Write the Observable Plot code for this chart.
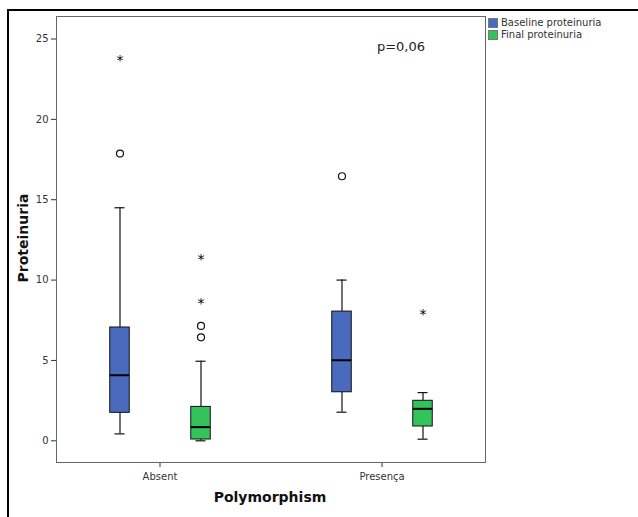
<!DOCTYPE html>
<html>
<head>
<meta charset="utf-8">
<script src="https://cdn.jsdelivr.net/npm/d3@7"></script>
<script src="https://cdn.jsdelivr.net/npm/@observablehq/plot@0.6"></script>
<style>
  html, body { margin: 0; padding: 0; background: #fff; }
  #wrap { position: relative; width: 638px; height: 517px; overflow: hidden; font-family: "DejaVu Sans", sans-serif; }
  #border { position: absolute; left: 7px; top: 9px; width: 700px; height: 600px; border: 2px solid #000; box-sizing: border-box; }
  #chart { position: absolute; left: 0; top: 0; }
  .legend { position: absolute; left: 488px; top: 17px; font-size: 10px; color: #333; line-height: 12px; }
  .legend div { display: flex; align-items: center; height: 12px; }
  .legend span.sw { display: inline-block; width: 10px; height: 10px; box-sizing: border-box; border: 1px solid #777; margin-right: 3px; }
  .ytitle { position: absolute; left: 23px; top: 238px; transform: translate(-50%, -50%) rotate(-90deg); font-weight: bold; font-size: 14px; color: #111; white-space: nowrap; }
  .xtitle { position: absolute; left: 270px; top: 489px; transform: translateX(-50%); font-weight: bold; font-size: 14px; color: #111; white-space: nowrap; }
  .pval { position: absolute; left: 401px; top: 39px; transform: translateX(-50%); font-size: 13px; color: #222; white-space: nowrap; }
</style>
</head>
<body>
<div id="wrap">
  <div id="chart"></div>
  <div id="border"></div>
  <div class="legend" id="legend"></div>
  <div class="ytitle">Proteinuria</div>
  <div class="xtitle">Polymorphism</div>
  <div class="pval">p=0,06</div>
</div>
<script>
// Categories
const groupNames = ["Absent", "Presença"];
const seriesNames = ["Baseline proteinuria", "Final proteinuria"];
const seriesColors = ["#4a6bbd", "#34c25b"];

// Box summaries (one per group × series)
const boxGroup = ["Absent", "Absent", "Presença", "Presença"];
const boxSeries = ["Baseline proteinuria", "Final proteinuria", "Baseline proteinuria", "Final proteinuria"];
const whiskerLow = [0.43, 0.0, 1.78, 0.1];
const q1 = [1.74, 0.08, 3.02, 0.89];
const median = [4.08, 0.85, 5.01, 1.99];
const q3 = [7.05, 2.11, 8.04, 2.49];
const whiskerHigh = [14.5, 4.95, 10.0, 3.0];

// Outliers (circles)
const outlierGroup = ["Absent", "Absent", "Absent", "Presença"];
const outlierSeries = ["Baseline proteinuria", "Final proteinuria", "Final proteinuria", "Baseline proteinuria"];
const outlierValue = [17.87, 7.15, 6.44, 16.46];

// Extreme values (stars)
const extremeGroup = ["Absent", "Absent", "Absent", "Presença"];
const extremeSeries = ["Baseline proteinuria", "Final proteinuria", "Final proteinuria", "Final proteinuria"];
const extremeValue = [23.8, 11.42, 8.68, 8.0];

// Y axis ticks
const yTicks = [0, 5, 10, 15, 20, 25];

const boxes = boxGroup.map((g, i) => ({
  group: g, series: boxSeries[i],
  lo: whiskerLow[i], q1: q1[i], med: median[i], q3: q3[i], hi: whiskerHigh[i]
}));
const outliers = outlierGroup.map((g, i) => ({group: g, series: outlierSeries[i], value: outlierValue[i]}));
const extremes = extremeGroup.map((g, i) => ({group: g, series: extremeSeries[i], value: extremeValue[i]}));

const ink = "#111";
const chart = Plot.plot({
  width: 638,
  height: 517,
  marginLeft: 55,
  marginRight: 152,
  marginTop: 16,
  marginBottom: 55,
  style: {fontFamily: "DejaVu Sans, sans-serif", fontSize: "10px", color: "#333", background: "transparent"},
  fx: {domain: groupNames, paddingInner: 0.067, paddingOuter: 0, label: null, axis: "bottom", tickSize: 5, tickPadding: 5},
  x: {domain: seriesNames, paddingInner: 0, paddingOuter: 0.268, axis: null},
  y: {domain: [-1.35, 26.4], ticks: yTicks, tickSize: 5, tickPadding: 3, label: null},
  color: {domain: seriesNames, range: seriesColors},
  marks: [
    Plot.ruleX(boxes, {fx: "group", x: "series", y1: "lo", y2: "q1", stroke: ink, strokeWidth: 1.2}),
    Plot.ruleX(boxes, {fx: "group", x: "series", y1: "q3", y2: "hi", stroke: ink, strokeWidth: 1.2}),
    Plot.tickY(boxes, {fx: "group", x: "series", y: "lo", stroke: ink, strokeWidth: 1.2, insetLeft: 35.5, insetRight: 35.5}),
    Plot.tickY(boxes, {fx: "group", x: "series", y: "hi", stroke: ink, strokeWidth: 1.2, insetLeft: 35.5, insetRight: 35.5}),
    Plot.barY(boxes, {fx: "group", x: "series", y1: "q1", y2: "q3", fill: "series", stroke: ink, strokeWidth: 1, insetLeft: 30.75, insetRight: 30.75}),
    Plot.tickY(boxes, {fx: "group", x: "series", y: "med", stroke: "#000", strokeWidth: 2, insetLeft: 30.75, insetRight: 30.75}),
    Plot.dot(outliers, {fx: "group", x: "series", y: "value", r: 3.5, stroke: ink, fill: "white", strokeWidth: 1.2}),
    Plot.text(extremes, {fx: "group", x: "series", y: "value", text: () => "*", fontSize: 14, dy: 2.5, fill: "#000"}),
    Plot.frame({facet: "super", stroke: "#666"})
  ]
});
document.getElementById("chart").appendChild(chart);

// Legend
const legend = document.getElementById("legend");
seriesNames.forEach((s, i) => {
  const row = document.createElement("div");
  const sw = document.createElement("span");
  sw.className = "sw";
  sw.style.background = seriesColors[i];
  row.appendChild(sw);
  row.appendChild(document.createTextNode(s));
  legend.appendChild(row);
});
</script>
</body>
</html>
